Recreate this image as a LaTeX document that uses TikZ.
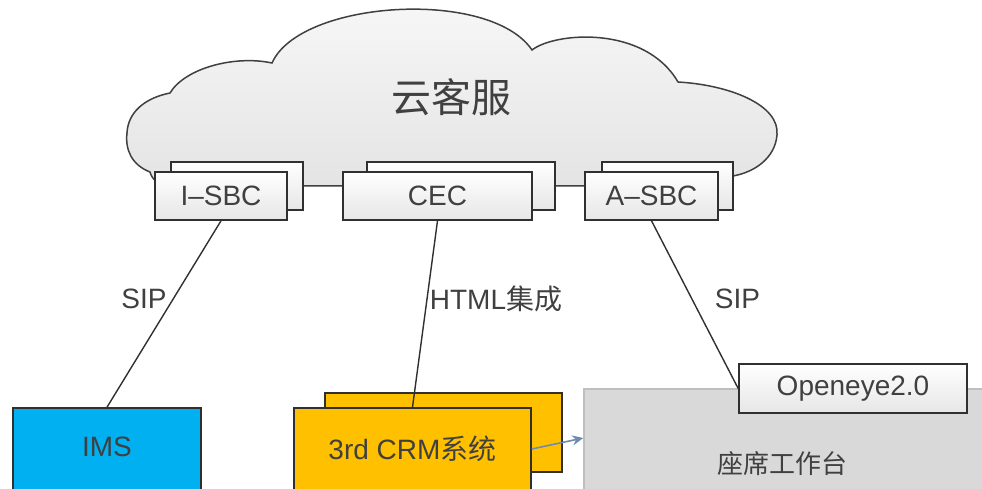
\documentclass[tikz,border=0pt]{standalone}
\usepackage{fontspec}
\setmainfont{Liberation Sans}
\newfontfamily\cjk{Noto Sans CJK SC}
\usetikzlibrary{arrows.meta}
\definecolor{txt}{HTML}{404040}
\definecolor{edge}{HTML}{303030}
\definecolor{boxbot}{HTML}{E6E6E6}
\definecolor{cloudtop}{HTML}{F8F8F8}
\definecolor{cloudbot}{HTML}{E4E4E4}
\definecolor{imsblue}{HTML}{00B0F0}
\definecolor{crmyellow}{HTML}{FFC000}
\definecolor{wbgrey}{HTML}{D9D9D9}
\definecolor{wbedge}{HTML}{BFBFBF}
\definecolor{arrowc}{HTML}{6F8CAE}
\tikzset{
  lbl/.style={font=\fontsize{28}{32}\selectfont, text=txt, inner sep=0pt},
  greybox/.style={rectangle, draw=edge, line width=1.6pt, top color=white, bottom color=boxbot,
    inner sep=0pt, minimum height=48pt, font=\fontsize{28}{32}\selectfont, text=txt},
  backbox/.style={greybox},
  conn/.style={draw=edge, line width=1.4pt},
  flowarrow/.style={draw=arrowc, line width=1.6pt, -{Stealth[length=11pt,width=10pt]}},
}
\begin{document}
\begin{tikzpicture}[x=1pt,y=-1pt]
\clip (0,0) rectangle (982,489);
\fill[white] (0,0) rectangle (982,489);
% cloud
\draw[draw=txt, line width=1.5pt, top color=cloudtop, bottom color=cloudbot]
  (150,172) .. controls (132,165) and (125,150) .. (127,133)
  .. controls (128,112) and (145,98) .. (170,93)
  .. controls (185,68) and (235,55) .. (272,63)
  .. controls (300,0) and (490,-12) .. (532,50)
  .. controls (555,32) and (645,25) .. (678,82)
  .. controls (730,85) and (780,105) .. (777,135)
  .. controls (775,158) and (755,172) .. (733,176)
  .. controls (726,180) and (720,186) .. (710,186)
  -- (170,186) .. controls (160,186) and (152,180) .. (150,172) -- cycle;
\node[font=\cjk\fontsize{40}{44}\selectfont, text=txt, inner sep=0pt] (title) at (451,97) {云客服};
% boxes on the cloud
\node[backbox, minimum width=132pt] (isbcB) at (237,186) {};
\node[greybox, minimum width=132pt] (isbcF) at (221,196) {I–SBC};
\node[backbox, minimum width=188pt] (cecB) at (461,186) {};
\node[greybox, minimum width=189pt] (cecF) at (437.5,196) {CEC};
\node[backbox, minimum width=131pt] (asbcB) at (667.5,186) {};
\node[greybox, minimum width=133pt] (asbcF) at (651.5,196) {A–SBC};
% bottom row
\node[rectangle, draw=edge, line width=1.6pt, fill=imsblue, inner sep=0pt,
      minimum width=188pt, minimum height=82pt, font=\fontsize{28}{32}\selectfont, text=txt]
      (ims) at (107,449) {\raisebox{4pt}{IMS}};
\node[rectangle, draw=edge, line width=1.6pt, fill=crmyellow, inner sep=0pt,
      minimum width=237pt, minimum height=79pt] (crmB) at (443.5,432.5) {};
\node[rectangle, draw=edge, line width=1.6pt, fill=crmyellow, inner sep=0pt,
      minimum width=237pt, minimum height=82pt, font=\fontsize{28}{32}\selectfont, text=txt]
      (crmF) at (412.5,449) {3rd CRM{\cjk 系统}};
\node[rectangle, draw=wbedge, line width=1.4pt, fill=wbgrey, inner sep=0pt,
      minimum width=406pt, minimum height=106pt] (wb) at (787,442) {};
\node[font=\cjk\fontsize{26}{30}\selectfont, text=txt, inner sep=0pt] (wbtext) at (782,464) {座席工作台};
\node[greybox, minimum width=228pt, minimum height=49pt] (openeye) at (853,388.5) {Openeye2.0};
% connectors
\draw[conn] (isbcF.south) -- (ims.north);
\draw[conn] (cecF.south) -- (crmF.north);
\draw[conn] (asbcF.south) -- (openeye.west);
\draw[flowarrow] (crmF.east) -- ([yshift=4pt]wb.west);
% labels
\node[lbl] (sip1) at (144,299) {SIP};
\node[lbl] (html) at (496,299) {HTML{\cjk 集成}};
\node[lbl] (sip2) at (737.5,299) {SIP};
\end{tikzpicture}
\end{document}
